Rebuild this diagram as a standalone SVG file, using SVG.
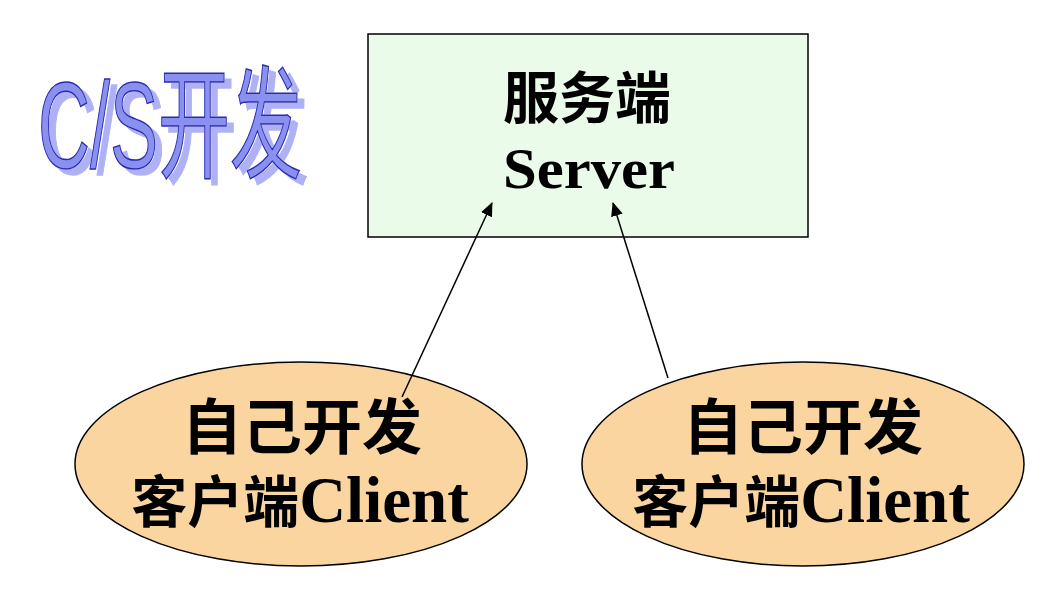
<svg xmlns="http://www.w3.org/2000/svg" width="1046" height="600" viewBox="0 0 1046 600">
<defs>
<marker id="arr" markerWidth="14" markerHeight="12" refX="13" refY="6" orient="auto" markerUnits="userSpaceOnUse" viewBox="0 0 14 12">
<path d="M0,0 L14,6 L0,12 z" fill="#000"/>
</marker>
<filter id="shadow" x="-10%" y="-10%" width="130%" height="130%">
<feOffset in="SourceAlpha" dx="7" dy="6" result="off"/>
<feFlood flood-color="#aeb2f4"/>
<feComposite in2="off" operator="in" result="sh"/>
<feMerge><feMergeNode in="sh"/><feMergeNode in="SourceGraphic"/></feMerge>
</filter>
<style>
.cjk{font-family:"Noto Sans CJK SC","Liberation Sans",sans-serif;font-weight:bold;fill:#000}
.lat{font-family:"Liberation Serif","Noto Sans CJK SC",serif;font-weight:bold;fill:#000}
.ell{fill:#fbd59f;stroke:#000;stroke-width:1.5}
.conn{stroke:#000;stroke-width:1.5;fill:none}
.title{font-family:"Liberation Sans","Noto Sans CJK SC",sans-serif;font-size:122px}
</style>
</defs>
<rect width="1046" height="600" fill="#fff"/>
<g id="title">
<text class="title" x="38" y="168" textLength="264" lengthAdjust="spacingAndGlyphs" fill="#8a90f0" stroke="#2a2ab0" stroke-width="1.5" filter="url(#shadow)">C/S开发</text>
</g>
<g id="server">
<rect x="368" y="34" width="440" height="203" fill="#ebfbea" stroke="#000" stroke-width="1.5"/>
<text class="cjk" x="587" y="118" font-size="56" text-anchor="middle">服务端</text>
<text class="lat" x="589" y="188" font-size="56" text-anchor="middle" textLength="172" lengthAdjust="spacingAndGlyphs">Server</text>
</g>
<g id="client1">
<ellipse class="ell" cx="301" cy="464" rx="226" ry="102"/>
<text class="cjk" x="302" y="449" font-size="60" text-anchor="middle">自己开发</text>
<text x="300" y="522" text-anchor="middle"><tspan class="cjk" font-size="56">客户端</tspan><tspan class="lat" font-size="65">Client</tspan></text>
</g>
<g id="client2">
<ellipse class="ell" cx="803" cy="464" rx="221" ry="102"/>
<text class="cjk" x="803" y="449" font-size="60" text-anchor="middle">自己开发</text>
<text x="801" y="522" text-anchor="middle"><tspan class="cjk" font-size="56">客户端</tspan><tspan class="lat" font-size="65">Client</tspan></text>
</g>
<g id="connectors">
<line class="conn" x1="402" y1="397" x2="492" y2="203" marker-end="url(#arr)"/>
<line class="conn" x1="668" y1="378" x2="613" y2="203" marker-end="url(#arr)"/>
</g>
</svg>
